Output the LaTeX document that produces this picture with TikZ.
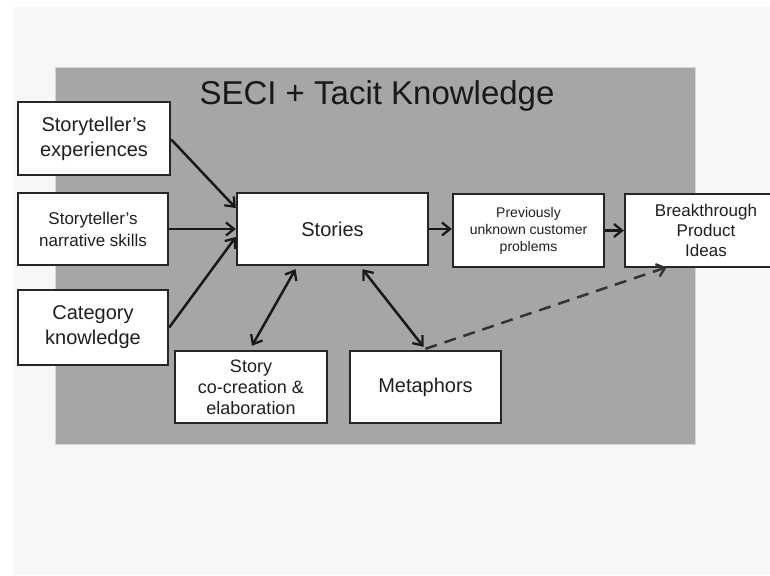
\documentclass[tikz,border=0pt]{standalone}
\usepackage{fontspec}
\setmainfont{Liberation Sans}
\usetikzlibrary{arrows.meta,calc}
\begin{document}
\begin{tikzpicture}[x=1pt,y=-1pt,
  box/.style={draw=black!85,line width=2.4pt,fill=white,inner sep=2pt,align=center,text=black!88},
  tip/.style={},
  conn/.style={line width=2.5pt,draw=black!90,-{Straight Barb[length=8pt,width=13pt,line width=2.3pt]}},
  biconn/.style={line width=2.5pt,draw=black!90,{Straight Barb[length=8pt,width=13pt,line width=2.3pt]}-{Straight Barb[length=8pt,width=13pt,line width=2.3pt]}},
  dconn/.style={conn,dash pattern=on 12pt off 8pt,draw=black!80}]
\useasboundingbox (0,0) rectangle (770,575);
\fill[white] (0,0) rectangle (770,575);
\fill[black!3] (13,7) rectangle (770,575);
\node[draw=cyan!15!black!20,line width=1pt,fill=black!35,minimum width=640pt,minimum height=376pt,inner sep=0pt] (panel) at (375,256) {};
\node[font=\fontsize{33}{36}\selectfont,text=black!90] (title) at (377,96) {SECI + Tacit Knowledge};
\node[box,minimum width=152pt,minimum height=73pt,font=\fontsize{20}{25}\selectfont] (exp) at (94,138.5) {Storyteller’s\\experiences};
\node[box,minimum width=150pt,minimum height=72pt,font=\fontsize{17}{22}\selectfont] (nar) at (93,229) {Storyteller’s\\narrative skills};
\node[box,minimum width=150pt,minimum height=75pt,font=\fontsize{20}{25}\selectfont] (cat) at (93,327.5) {Category\\knowledge};
\node[box,minimum width=191pt,minimum height=72pt,font=\fontsize{20}{24}\selectfont] (sto) at (332.5,229) {Stories};
\node[box,minimum width=151pt,minimum height=73pt,font=\fontsize{14}{17}\selectfont] (prev) at (528.5,230.5) {Previously\\unknown customer\\problems};
\node[box,minimum width=162pt,minimum height=73pt,font=\fontsize{17}{20}\selectfont] (brk) at (706,230.5) {Breakthrough\\Product\\Ideas};
\node[box,minimum width=152pt,minimum height=72pt,font=\fontsize{18}{21}\selectfont] (coc) at (251,387) {Story\\co-creation \&\\elaboration};
\node[box,minimum width=151pt,minimum height=72pt,font=\fontsize{20}{24}\selectfont] (met) at (425.5,387) {Metaphors};
\coordinate (e1) at ($(sto.west)+(0,-21)$);
\coordinate (e3) at ($(sto.west)+(0,8)$);
\coordinate (s1) at ($(sto.south)+(-37,3)$);
\coordinate (s2) at ($(sto.south)+(30,3)$);
\coordinate (c1) at ($(coc.north)+(1,-4)$);
\coordinate (m1) at ($(met.north)+(-2,-3)$);
\coordinate (m2) at ($(met.north)+(0,-1)$);
\coordinate (b1) at ($(brk.south west)+(43,-1)$);
\draw[conn] ($(exp.east)+(0,1)$) -- (e1);
\draw[conn] (nar.east) -- (sto.west);
\draw[conn] (cat.east) -- (e3);
\draw[biconn] (s1) -- (c1);
\draw[biconn] (s2) -- (m1);
\draw[conn] (sto.east) -- ($(prev.west)+(0,-1.5)$);
\draw[conn] (prev.east) -- (brk.west);
\draw[dconn] (m2) -- (b1);
\end{tikzpicture}
\end{document}
